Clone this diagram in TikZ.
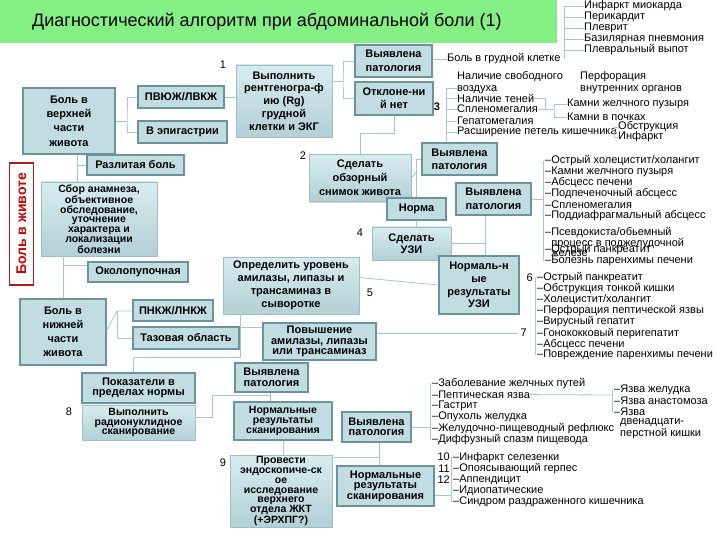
\documentclass[tikz,border=0pt]{standalone}
\usepackage{fontspec}
\setmainfont{Liberation Sans}
\usetikzlibrary{positioning,calc,shadows}
\definecolor{boxfill}{HTML}{C2DDE2}
\definecolor{boxline}{HTML}{6A939C}
\definecolor{bevtop}{HTML}{D8ECEF}
\definecolor{bevbot}{HTML}{B2D0D6}
\definecolor{bevline}{HTML}{9DBEC5}
\definecolor{wire}{HTML}{A3C8CF}
\definecolor{titlegreen}{HTML}{84EF84}
\definecolor{alarm}{HTML}{A81C1C}

\begin{document}
\begin{tikzpicture}[x=1pt,y=-1pt,
  box/.style={draw=boxline,fill=boxfill,line width=2pt,inner sep=1pt,align=center,font=\bfseries\fontsize{11}{13}\selectfont},
  bev/.style={draw=bevline,top color=bevtop,bottom color=bevbot,line width=0.6pt,inner sep=1pt,align=center,
    drop shadow={opacity=0.35,shadow xshift=1.2pt,shadow yshift=-1.2pt},font=\bfseries\fontsize{11}{13}\selectfont},
  lead/.style={font=\bfseries\fontsize{11}{#1}\selectfont},
  tight/.style={font=\bfseries\fontsize{10.5}{9.7}\selectfont},
  sz/.style 2 args={minimum width=#1,minimum height=#2},
  item/.style={anchor=west,inner sep=0pt,font=\fontsize{11}{12}\selectfont,align=left},
  num/.style={inner sep=0pt,font=\fontsize{11}{11}\selectfont},
  conn/.style={draw=wire,line width=0.8pt}]
  \fill[white] (0,0) rectangle (720,540);
  \useasboundingbox (0,0) rectangle (720,540);
  % title
  \fill[titlegreen] (0,0) rectangle (557,43);
  \node[anchor=west,inner sep=0pt,font=\fontsize{18}{18}\selectfont] (title) at (32,22) {Диагностический алгоритм при абдоминальной боли (1)};
  \node[draw=alarm,line width=1.8pt,rotate=90,minimum width=122,minimum height=24,text=red!80!black,font=\bfseries\fontsize{14}{14}\selectfont] (belly) at (21.5,224) {Боль в животе};

  % left column
  \node[box,sz={92}{66},lead=14.4] (up) at (69,121) {Боль в\\верхней\\части\\живота};
  \node[box,sz={86}{22}] (pvzh) at (181,97) {ПВЮЖ/ЛВКЖ};
  \node[box,sz={89}{22}] (epig) at (182.5,132) {В эпигастрии};
  \node[box,sz={97}{20}] (diff) at (135.5,165) {Разлитая боль};
  \node[bev,sz={116}{74},tight] (anam) at (99,219) {Сбор анамнеза,\\объективное\\обследование,\\уточнение\\характера и\\локализации\\болезни};
  \node[box,sz={100}{20}] (umbil) at (138,272) {Околопупочная};
  \node[box,sz={86}{66},lead=14] (low) at (63,332) {Боль в\\нижней\\части\\живота};
  \node[box,sz={80}{21}] (pnkzh) at (173,310.5) {ПНКЖ/ЛНКЖ};
  \node[box,sz={106}{22}] (pelv) at (186,338) {Тазовая область};
  \node[box,sz={113}{30},lead=10.5] (normal) at (138.5,388) {Показатели в\\пределах нормы};
  \node[bev,sz={113}{35},tight] (radio) at (138.5,422.5) {Выполнить\\радионуклидное\\сканирование};

  % middle
  \node[bev,sz={96}{72},lead=12.8] (rg) at (284,101) {Выполнить\\рентгеногра-ф\\ию (Rg)\\грудной\\клетки и ЭКГ};
  \node[box,sz={77}{32},lead=14] (pat1) at (393.5,61) {Выявлена\\патология};
  \node[box,sz={78}{33},lead=13] (noabn) at (394,98.5) {Отклоне-ни\\й нет};
  \node[bev,sz={102}{47},lead=14] (xray) at (360,178) {Сделать\\обзорный\\снимок живота};
  \node[box,sz={75}{32},lead=13] (pat2) at (459.5,159) {Выявлена\\патология};
  \node[box,sz={75}{32},lead=14] (pat3) at (493.5,199) {Выявлена\\патология};
  \node[box,sz={59}{22}] (norma) at (416.5,209) {Норма};
  \node[bev,sz={79}{33},lead=12] (uzi) at (411.5,243.5) {Сделать\\УЗИ};
  \node[box,sz={80}{58},lead=12.7] (normuzi) at (479,285) {Нормаль-н\\ые\\результаты\\УЗИ};
  \node[bev,sz={136}{57},lead=13] (ampl) at (291,285.5) {Определить уровень\\амилазы, липазы и\\трансаминаз в\\сыворотке};
  \node[box,sz={113}{37},lead=10.5] (raise) at (319.5,341.5) {Повышение\\амилазы, липазы\\или трансаминаз};
  \node[box,sz={73}{29},lead=10.5] (pat4) at (271.5,377.5) {Выявлена\\патология};
  \node[box,sz={98}{38},tight] (scan1) at (283,421) {Нормальные\\результаты\\сканирования};
  \node[bev,sz={102}{72},tight] (endo) at (281,491) {Провести\\эндоскопиче-ск\\ое\\исследование\\верхнего\\отдела ЖКТ\\(+ЭРХПГ?)};
  \node[box,sz={69}{30},lead=10.5] (pat5) at (376.5,427) {Выявлена\\патология};
  \node[box,sz={97}{40},lead=10.5] (scan2) at (385.5,486) {Нормальные\\результаты\\сканирования};

  % step numbers
  \node[num] (n1) at (223,65) {1};
  \node[num] (n2) at (303,156) {2};
  \node[num,font=\bfseries\fontsize{11}{11}\selectfont] (n3) at (437,107) {3};
  \node[num] (n4) at (360,233) {4};
  \node[num] (n5) at (370,293) {5};
  \node[num] (n8) at (69,412) {8};
  \node[num] (n9) at (223,463) {9};

  % connectors, left
  \coordinate (jU1) at (127,121);
  \draw[conn] (up.east) -- (jU1);
  \draw[conn] (pvzh.west) -| (jU1) |- (epig.west);
  \coordinate (jL1) at (77,165);
  \draw[conn] (up.south -| jL1) -- (anam.north -| jL1);
  \draw[conn] (jL1) -- (diff.west);
  \coordinate (jL2) at (63,265);
  \draw[conn] (anam.south -| jL2) -- (low.north -| jL2);
  \draw[conn] (jL2) -- (umbil.west |- jL2);
  \coordinate (jL3) at (117,311);
  \draw[conn] ([yshift=2pt]low.east) -- (jL3) -- (pnkzh.west |- jL3);
  \draw[conn] (jL3) |- (pelv.west);
  \draw[conn] (pvzh.east) -- (pvzh.east -| rg.west);
  \coordinate (jR) at (343,81);
  \draw[conn] (rg.east |- jR) -- (jR);
  \draw[conn] (pat1.west) -| (jR) |- (noabn.west);
  \draw[conn] (noabn.south) -- ++(0,17) -| (xray.north);
  \draw[conn] (pat2.west) -| (norma.north);
  \draw[conn] ([xshift=1pt,yshift=1pt]xray.east) -- ++(5,-6);
  \draw[conn] (norma.south) -- (uzi.north -| norma.south);
  \coordinate (jU) at (485,243.5);
  \draw[conn] (uzi.east) -- (jU);
  \draw[conn] (pat3.south -| jU) -- (normuzi.north -| jU);
  \draw[conn] ($(ampl.east)+(0,-8)$) -- (normuzi.west);
  \coordinate (jA) at (240,327);
  \coordinate (jA3) at (133,357);
  \draw[conn] (ampl.south -| jA) -- (jA) -- (raise.west |- jA);
  \draw[conn] (jA) |- (jA3) -- (normal.north -| jA3);
  \draw[conn] (normal.south -| jA3) -- (radio.north -| jA3);
  \coordinate (jS) at (212,395);
  \coordinate (jS2) at (270,395);
  \draw[conn] ([yshift=5pt]radio.east) -| (jS) -- (jS2);
  \draw[conn] (pat4.south -| jS2) -- (scan1.north -| jS2);
  \draw[conn] (scan1.south) -- (endo.north -| scan1.south);
  \coordinate (jE) at (379,457);
  \draw[conn] (endo.east |- jE) -- (jE);
  \draw[conn] (pat5.south -| jE) -- (scan2.north -| jE);

  % list: chest
  \node[item] (chest) at (447,59) {Боль в грудной клетке};
  \draw[conn] (pat1.east |- chest.west) -- (chest.west);
  \coordinate (busA) at (564,59);
  \draw[conn] (busA) -- (564,6);
  \foreach \t [count=\i] in {Инфаркт миокарда,Перикардит,Плеврит,Базилярная пневмония,Плевральный выпот} {
    \node[item] (a\i) at (584,{-5+11*\i}) {\t};
    \draw[conn] (busA |- a\i.west) -- (a\i.west);
  }

  % list: plain x-ray
  \node[item] (b0) at (457,83) {Наличие свободного\\воздуха};
  \node[item] (perf) at (580,83) {Перфорация\\внутренних органов};
  \foreach \t/\y [count=\i] in {Наличие теней/98,Спленомегалия/109,Гепатомегалия/121,Расширение петель кишечника/132}
    \node[item] (b\i) at (457,\y) {\t};
  \coordinate (busB) at (446,88);
  \draw[conn] (busB) -- (busB |- pat2.north);
  \draw[conn] (busB) -- (b0.west |- busB);
  \foreach \i in {1,...,4} \draw[conn] (busB |- b\i.west) -- (b\i.west);
  \node[item] (gall) at (567,104) {Камни желчного пузыря};
  \node[item] (kid) at (567,117) {Камни в почках};
  \coordinate (jb) at (545,109);
  \coordinate (jc) at (554,109);
  \draw[conn] (b1.east) -| (jb) -- (jc);
  \draw[conn] (b2.east) -- (jb);
  \draw[conn] (gall.west) -| (jc) |- (kid.west);
  \node[item] (obst) at (618,127) {Обструкция};
  \node[item] (infa) at (618,137) {Инфаркт};
  \coordinate (jd) at (614,132);
  \draw[conn] (b4.east) -- (jd);
  \draw[conn] (obst.west) -| (jd) |- (infa.west);

  % list: ultrasound
  \foreach \t [count=\i] in {Острый холецистит/холангит,Камни желчного пузыря,Абсцесс печени,Подпеченочный абсцесс,Спленомегалия,Поддиафрагмальный абсцесс}
    \node[item] (c\i) at (545,{150+11*\i}) {–\t};
  \node[item,anchor=north west,font=\fontsize{11}{9.5}\selectfont] (c7) at (545,227) {–Псевдокиста/обьемный\\\hphantom{–}процесс в поджелудочной\\\hphantom{–}железе};
  \node[item] (c8) at (545,250) {–Острый панкреатит};
  \node[item] (c9) at (545,261) {–Болезнь паренхимы печени};
  \coordinate (busC) at (543,199);
  \draw[conn] (pat3.east) -- (busC);
  \draw[conn] (busC |- c1.west) -- (busC |- c9.west);

  % list: normal ultrasound
  \foreach \t [count=\i] in {Острый панкреатит,Обструкция тонкой кишки,Холецистит/холангит,Перфорация пептической язвы,Вирусный гепатит,Гонококковый перигепатит,Абсцесс печени,Повреждение паренхимы печени}
    \node[item] (d\i) at (537,{266.5+11.1*\i}) {–\t};
  \node[num,left=4pt of d1] (n6) {6};
  \node[num,left=10pt of d6] (n7) {7};
  \coordinate (busD) at (535,278);
  \draw[conn] (busD) -- (busD |- d8.west);
  \draw[conn] (raise.east |- n7.west) -- ([xshift=-2pt]n7.west);

  % list: endoscopy findings
  \foreach \t [count=\i] in {Заболевание желчных путей,Пептическая язва,Гастрит,Опухоль желудка,Желудочно-пищеводный рефлюкс,Диффузный спазм пищевода}
    \node[item] (e\i) at (432,{372+11.3*\i}) {–\t};
  \coordinate (busE) at (430,427);
  \draw[conn] (pat5.east) -- (busE);
  \draw[conn] (busE |- e1.west) -- (busE |- e6.west);
  \foreach \t [count=\i] in {Язва желудка,Язва анастомоза,Язва}
    \node[item] (u\i) at (614,{379+11*\i}) {–\t};
  \node[item] (u4) at (620,428.5) {двенадцати-\\перстной кишки};
  \coordinate (busU) at (612,395);
  \draw[conn] (e2.east) -- (busU);
  \draw[conn] (busU |- u1.west) -- (busU |- u3.west);

  % list: normal scans
  \foreach \t [count=\i] in {Инфаркт селезенки,Опоясывающий герпес,Аппендицит,Идиопатические,Синдром раздраженного кишечника}
    \node[item] (f\i) at (453,{446+11.2*\i}) {–\t};
  \foreach \i/\n in {1/10,2/11,3/12} \node[num,left=3pt of f\i] (n\n) {\n};
  \coordinate (busF) at (451,495);
  \draw[conn] (scan2.east |- busF) -- (busF);
  \draw[conn] (busF |- f1.west) -- (busF |- f5.west);
\end{tikzpicture}
\end{document}
